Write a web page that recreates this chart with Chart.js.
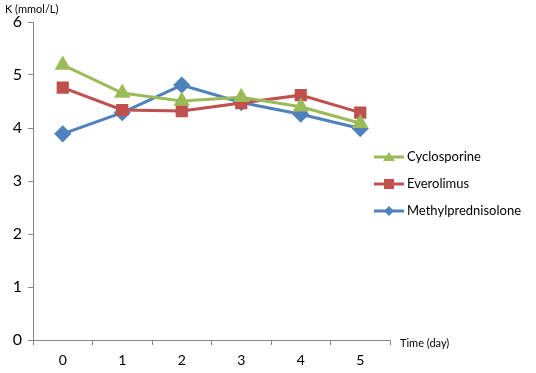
<!DOCTYPE html>
<html>
<head>
<meta charset="utf-8">
<script src="https://cdn.jsdelivr.net/npm/chart.js@4"></script>
<style>
  html, body { margin: 0; padding: 0; background: #fff; }
  #wrap { width: 536px; height: 373px; }
</style>
</head>
<body>
<div id="wrap"><canvas id="chart"></canvas></div>
<script>
// data
const days = ['0', '1', '2', '3', '4', '5'];
const cyclosporine = [5.19, 4.66, 4.51, 4.58, 4.40, 4.09];
const everolimus = [4.76, 4.34, 4.32, 4.47, 4.62, 4.29];
const methylprednisolone = [3.89, 4.29, 4.81, 4.48, 4.26, 3.99];
const seriesNames = ['Cyclosporine', 'Everolimus', 'Methylprednisolone'];

const FONT = 'Lato, "Open Sans", sans-serif';

// legend + axis titles drawn by hand, office style
const extras = {
    id: 'extras',
    afterDraw(chart) {
        const ctx = chart.ctx;
        ctx.save();
        ctx.fillStyle = '#000';
        ctx.font = '11px ' + FONT;
        ctx.textBaseline = 'middle';
        ctx.textAlign = 'left';
        ctx.fillText('K (mmol/L)', 5, 9);
        ctx.fillText('Time (day)', 400, 343);

        chart.data.datasets.forEach((ds, i) => {
            const y = 157 + i * 27;
            ctx.strokeStyle = ds.borderColor;
            ctx.lineWidth = 3;
            ctx.beginPath();
            ctx.moveTo(374, y);
            ctx.lineTo(404, y);
            ctx.stroke();
            ctx.fillStyle = ds.backgroundColor;
            const cx = 389;
            ctx.beginPath();
            if (ds.pointStyle === 'triangle') {
                ctx.moveTo(cx, y - 5); ctx.lineTo(cx + 6, y + 4); ctx.lineTo(cx - 6, y + 4);
            } else if (ds.pointStyle === 'rect') {
                ctx.rect(cx - 5, y - 5, 10, 10);
            } else {
                ctx.moveTo(cx, y - 5); ctx.lineTo(cx + 5, y); ctx.lineTo(cx, y + 5); ctx.lineTo(cx - 5, y);
            }
            ctx.closePath();
            ctx.fill();
            ctx.fillStyle = '#000';
            ctx.font = '13px ' + FONT;
            ctx.fillText(ds.label, 407, y);
        });
        ctx.restore();
    }
};

const data = {
    labels: days,
    datasets: [{
        label: seriesNames[0],
        data: cyclosporine,
        borderColor: '#9BBB59',
        backgroundColor: '#9BBB59',
        pointStyle: 'triangle',
        pointRadius: 6.5,
        borderWidth: 3
    },
    {
        label: seriesNames[1],
        data: everolimus,
        borderColor: '#C0504D',
        backgroundColor: '#C0504D',
        pointStyle: 'rect',
        pointRadius: 6.5,
        borderWidth: 3
    },
    {
        label: seriesNames[2],
        data: methylprednisolone,
        borderColor: '#4F81BD',
        backgroundColor: '#4F81BD',
        pointStyle: 'rectRot',
        pointRadius: 6.5,
        borderWidth: 3
    }]
};

const config = {
    type: 'line',
    data,
    options: {
        responsive: true,
        maintainAspectRatio: false,
        animation: false,
        layout: { padding: { top: 22, right: 146, left: 0, bottom: 0 } },
        plugins: { legend: { display: false }, tooltip: { enabled: false } },
        elements: { point: { borderWidth: 1 }, line: { tension: 0 } },
        scales: {
            x: {
                offset: true,
                grid: { display: true, drawOnChartArea: false, offset: true, tickLength: 5, color: '#868686' },
                border: { color: '#868686', width: 1 },
                ticks: { color: '#000', font: { family: FONT, size: 14 }, padding: 7 },
                afterFit(scale) { scale.height = 33; }
            },
            y: {
                min: 0,
                max: 6,
                grid: { display: true, drawOnChartArea: false, tickLength: 5, color: '#868686' },
                border: { color: '#868686', width: 1 },
                ticks: { stepSize: 1, color: '#000', font: { family: FONT, size: 16 }, padding: 6 },
                afterFit(scale) { scale.width = 33; }
            }
        }
    },
    plugins: [extras]
};

const myChart = new Chart(document.getElementById('chart'), config);
</script>
</body>
</html>
